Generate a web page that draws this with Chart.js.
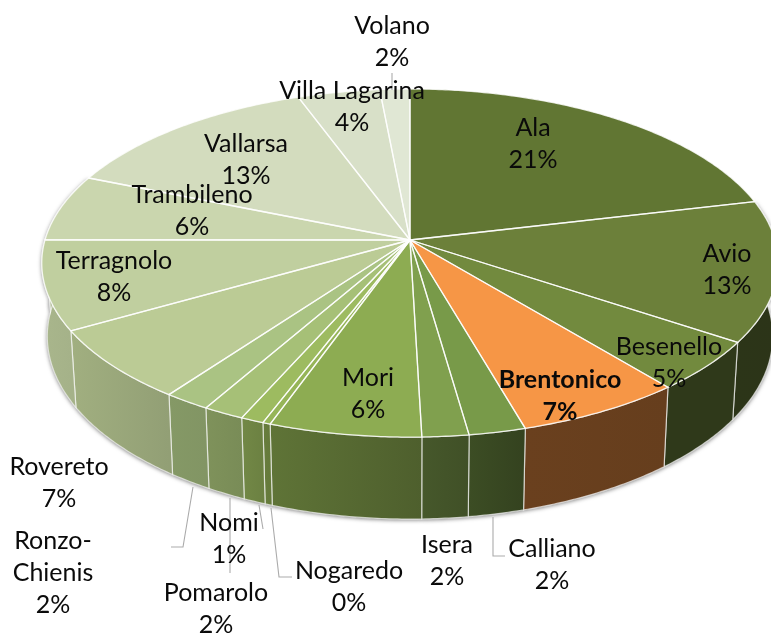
<!DOCTYPE html>
<html>
<head>
<meta charset="utf-8">
<style>html,body{margin:0;padding:0;background:#fff;overflow:hidden}canvas{display:block}</style>
<script src="https://cdn.jsdelivr.net/npm/chart.js@4"></script>
</head>
<body>
<canvas id="c" width="771" height="634"></canvas>
<script>
const categories = ['Ala','Avio','Besenello','Brentonico','Calliano','Isera','Mori','Nogaredo','Nomi','Pomarolo','Ronzo-Chienis','Rovereto','Terragnolo','Trambileno','Vallarsa','Villa Lagarina','Volano'];
const shares = [21.3,13.1,4.7,6.5,2.2,1.8,5.9,0.3,0.9,1.6,1.8,6.7,8.3,6.2,13.2,4.1,1.5];
const sliceColors = ['#617633','#6C803A','#728A3E','#F69646','#789A49','#80A04E','#8DAC52','#96B558','#9DBB60','#A6C077','#AAC383','#BBCB95','#C0CF9F','#CAD6AE','#D3DCBE','#D8E0C8','#E0E7D4'];
const highlighted = 'Brentonico';

// label anchors: [x, y of first line] ; line step is shared
const labelAnchors = {
  'Ala':[533,129],'Avio':[727,255],'Besenello':[669,348],'Brentonico':[560,381],'Calliano':[552,550],
  'Isera':[447,546],'Mori':[368,379],'Nogaredo':[349,572],'Nomi':[229,524],'Pomarolo':[216,594],
  'Ronzo-Chienis':[53,542],'Rovereto':[59,468],'Terragnolo':[114,262],'Trambileno':[192,196],
  'Vallarsa':[246,145],'Villa Lagarina':[352,92],'Volano':[392,27]
};
const leaderLines = [
  [[392,73],[392,90]],
  [[193,487],[183,547],[171,547]],
  [[230,498],[230,573]],
  [[259,505],[263,529]],
  [[271,508],[279,577],[292,577]],
  [[493,517],[493,556],[505,556]]
];

// perspective projection of the unit disc
const view = {cx:410, cy:240, a:365, b:171, k:0.1323, wallScale:0.985, depthNear:82, depthSlope:0.05, nearY:437};
// side-wall lighting: [screen x, brightness]
const wallLight = [[45,.88],[172,.78],[210,.76],[250,.72],[272,.67],[422,.55],[469,.5],[524,.43],[600,.42],[771,.41]];
function project(angle){
  const u=Math.cos(angle), v=Math.sin(angle), w=1-view.k*v;
  return [view.cx+view.a*u/w, view.cy+view.b*v/w];
}
function drop(p){
  const d=view.depthNear-view.depthSlope*(view.nearY-p[1]);
  return [view.cx+(p[0]-view.cx)*view.wallScale, p[1]+d];
}
function shade(x){
  for(let i=1;i<wallLight.length;i++){
    const a=wallLight[i-1],b=wallLight[i];
    if(x<=b[0]) return a[1]+(b[1]-a[1])*Math.max(0,(x-a[0]))/(b[0]-a[0]);
  }
  return wallLight[wallLight.length-1][1];
}
function tint(hex,f){
  const n=parseInt(hex.slice(1),16);
  return 'rgb('+[(n>>16)&255,(n>>8)&255,n&255].map(c=>Math.round(c*f)).join(',')+')';
}
function arcPoints(s,e){
  const n=Math.max(2,Math.ceil((e-s)/0.01)),pts=[];
  for(let i=0;i<=n;i++) pts.push(project(s+(e-s)*i/n));
  return pts;
}
function trace(ctx,pts){ pts.forEach((p,i)=> i?ctx.lineTo(p[0],p[1]):ctx.moveTo(p[0],p[1])); }
function wallPath(ctx,pts){
  ctx.beginPath();trace(ctx,pts);
  pts.map(drop).reverse().forEach(p=>ctx.lineTo(p[0],p[1]));
  ctx.closePath();
}

const pie3d = {
  id:'pie3d',
  beforeDatasetDraw(chart,args){
    const ctx=chart.ctx, arcs=chart.getDatasetMeta(args.index).data;
    const slices=arcs.map((arc,i)=>({i,s:arc.startAngle,e:arc.endAngle,pts:arcPoints(arc.startAngle,arc.endAngle)}));
    const front=slices.filter(sl=>Math.sin((sl.s+sl.e)/2)>=-0.3);
    ctx.save();
    ctx.save();
    ctx.shadowColor='rgba(0,0,0,0.55)';ctx.shadowBlur=4;ctx.shadowOffsetY=1;ctx.fillStyle='#888';
    front.forEach(sl=>{wallPath(ctx,sl.pts);ctx.fill();});
    ctx.restore();
    front.forEach(sl=>{
      const xs=sl.pts.map(p=>p[0]), x0=Math.min(...xs), x1=Math.max(...xs)+0.01;
      const g=ctx.createLinearGradient(x0,0,x1,0), col=sliceColors[sl.i];
      g.addColorStop(0,tint(col,shade(x0)));g.addColorStop(1,tint(col,shade(x1)));
      wallPath(ctx,sl.pts);
      ctx.fillStyle=g;ctx.fill();
      ctx.strokeStyle='rgba(255,255,255,0.65)';ctx.lineWidth=1.2;
      ctx.stroke();
    });
    // top faces
    slices.forEach(sl=>{
      ctx.beginPath();ctx.moveTo(view.cx,view.cy);sl.pts.forEach(p=>ctx.lineTo(p[0],p[1]));ctx.closePath();
      ctx.fillStyle=sliceColors[sl.i];ctx.fill();
    });
    ctx.strokeStyle='rgba(255,255,255,0.8)';ctx.lineWidth=1.3;ctx.lineJoin='round';
    slices.forEach(sl=>{
      ctx.beginPath();ctx.moveTo(view.cx,view.cy);sl.pts.forEach(p=>ctx.lineTo(p[0],p[1]));ctx.closePath();ctx.stroke();
    });
    ctx.restore();
    return false;
  },
  afterDatasetsDraw(chart){
    const ctx=chart.ctx;
    ctx.save();
    ctx.strokeStyle='#ABABAB';ctx.lineWidth=1.1;
    leaderLines.forEach(l=>{ctx.beginPath();trace(ctx,l);ctx.stroke();});
    ctx.textAlign='center';ctx.textBaseline='middle';ctx.fillStyle='#0A0A0A';
    categories.forEach((name,i)=>{
      const pos=labelAnchors[name], bold=name===highlighted;
      ctx.font=(bold?'bold ':'')+'25px Lato, sans-serif';
      const lines=name.split(/(?<=-)/).concat(Math.round(shares[i])+'%');
      lines.forEach((t,j)=>ctx.fillText(t,pos[0],pos[1]-1+j*32));
    });
    ctx.restore();
  }
};

new Chart(document.getElementById('c'),{
  type:'pie',
  data:{labels:categories,datasets:[{data:shares,backgroundColor:sliceColors}]},
  options:{responsive:false,animation:false,events:[],plugins:{legend:{display:false},title:{display:false},tooltip:{enabled:false}}},
  plugins:[pie3d]
});
</script>
</body>
</html>
